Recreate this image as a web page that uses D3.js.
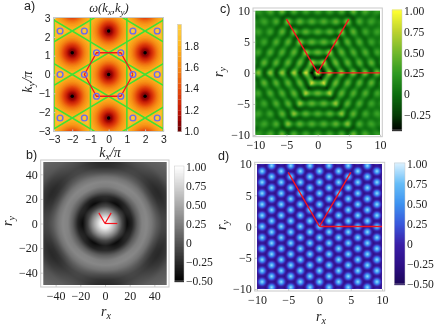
<!DOCTYPE html>
<html><head><meta charset="utf-8">
<script src="https://cdnjs.cloudflare.com/ajax/libs/d3/7.8.5/d3.min.js"></script>
<style>html,body{margin:0;padding:0;background:#fff;overflow:hidden}svg{display:block;filter:blur(.35px)}</style>
</head><body><svg id="c" width="436" height="326"></svg>
<script>
// ---------- values ----------
const kTicks=[-3,-2,-1,0,1,2,3];
const bTicks=[-40,-20,0,20,40];
const cTicks=[-10,-5,0,5,10];
const aBarTicks=[1.0,1.2,1.4,1.6,1.8];
const barTicks=[1,0.75,0.5,0.25,0,-0.25,-0.5];
const cBarTicks=[1,0.75,0.5,0.25,0,-0.25];
const aCentres=[[0,0],[2,1.155],[-2,1.155],[2,-1.155],[-2,-1.155],[0,2.31],[0,-2.31],[2,3.465],[-2,3.465],[2,-3.465],[-2,-3.465],[4,0],[-4,0],[4,2.31],[-4,2.31],[4,-2.31],[-4,-2.31],[0,4.62],[0,-4.62]];
const aKPoints=[[0.667,1.155],[-0.667,1.155],[0.667,-1.155],[-0.667,-1.155],[1.333,0],[-1.333,0],[2.667,0],[-2.667,0],[1.333,2.31],[-1.333,2.31],[2.667,2.31],[-2.667,2.31],[1.333,-2.31],[-1.333,-2.31],[2.667,-2.31],[-2.667,-2.31]];
const aGreenHex=[[0,1.155],[1,0.577],[1,-0.577],[0,-1.155],[-1,-0.577],[-1,0.577],[0,1.155]];
const aZone=[[1.333,0],[0.667,1.155],[-0.667,1.155],[-1.333,0],[-0.667,-1.155],[0.667,-1.155],[1.333,0]];
const aRadius=[0,0.2,0.4,0.6,0.8,1.0,1.155,1.333];
const aOmegaTowardM=[1.0,1.11,1.3,1.5,1.66,1.77,1.84,1.84];
const aOmegaTowardK=[1.0,1.11,1.3,1.5,1.66,1.78,1.86,1.92];
const aColorDomain=[1.0,1.1,1.2,1.4,1.6,1.8,2.0];
const aColors=["#5e0000","#960404","#c41a06","#e64c0c","#f58a14","#fdb61e","#fdd04a"];
const bRadius=[0,4,8,11,14,18,22,26,30,34,38,42,46,50,55,60,72];
const bAlong0=[1,0.9,0.55,0.25,-0.1,-0.44,-0.3,0.05,0.27,0.3,0.2,0.04,-0.08,-0.1,-0.03,0.05,0.14];
const bAlong30=[1,0.9,0.55,0.25,-0.08,-0.32,-0.25,0.05,0.24,0.29,0.17,-0.06,-0.22,-0.26,-0.18,-0.03,0.12];
const cRing=[0,0.8,1.65,2.45,3.3,4.1,4.95,5.8,6.6,7.4,8.25,9.1,9.9,10.7,11.5,12.5,14.2];
const cRingValue=[0.9,-0.4,0.52,-0.2,0.4,-0.14,0.33,-0.1,0.3,-0.08,0.28,-0.07,0.2,0.04,0.18,0.08,0.16];
const cSide=[0,0.5,0.8,1];
const cSideContrast=[0.8,0.85,1.0,1.25];
const cSideRipple=[0.12,0.14,0.2,0.25];
const cColorDomain=[-0.43,-0.25,0,0.25,0.5,0.75,1];
const cColors=["#000000","#063b06","#0d6e0f","#2f9a22","#72b82c","#bcd230","#ffff33"];
const dEvenColumns=[-9.19,-6.13,-3.06,0,3.06,6.13,9.19];
const dOddColumns=[-10.72,-7.66,-4.6,-1.53,1.53,4.6,7.66,10.72];
const dEvenRows=[-10.62,-8.85,-7.08,-5.31,-3.54,-1.77,0,1.77,3.54,5.31,7.08,8.85,10.62];
const dOddRows=[-9.735,-7.965,-6.195,-4.425,-2.655,-0.885,0.885,2.655,4.425,6.195,7.965,9.735];
const dSpotRadius=[0,0.2,0.4,0.6,0.8,1.05];
const dSpotValue=[0.9,0.72,0.42,0.14,-0.08,-0.3];
const dColorDomain=[-0.5,-0.25,0,0.25,0.5,0.75,1];
const dColors=["#1c0758","#2e1088","#3a1fa8","#3a58dc","#3d92f0","#66bdf8","#d8f0ff"];
const redSegments=[[10,0],[5,8.66],[-5,8.66]];

// ---------- helpers ----------
const svg=d3.select("#c");
const SANS="'Liberation Sans',sans-serif", SERIF="'Liberation Serif',serif";
const GRAY="#c9c9c9", RED="#f5141e";
const fmt=d=>String(d).replace("-","\u2212");
const fmt2=d=>(d===0?"0":d.toFixed(2)).replace("-","\u2212");
function raster(box,fn){
  const S=2,W=Math.round(box.w*S),H=Math.round(box.h*S);
  const cv=document.createElement("canvas");cv.width=W;cv.height=H;
  const ctx=cv.getContext("2d"),im=ctx.createImageData(W,H);
  for(let j=0;j<H;j++)for(let i=0;i<W;i++){
    const c=d3.rgb(fn(box.x0+(i+.5)/S,box.y0+(j+.5)/S)),o=4*(j*W+i);
    im.data[o]=c.r;im.data[o+1]=c.g;im.data[o+2]=c.b;im.data[o+3]=255;
  }
  ctx.putImageData(im,0,0);
  svg.append("image").attr("x",box.x0).attr("y",box.y0).attr("width",box.w).attr("height",box.h)
    .attr("preserveAspectRatio","none").attr("href",cv.toDataURL());
}
function frame(f,x,y,xt,yt,font,size,xf,yf,xPad,yPad){
  const g=svg.append("g").attr("font-family",font).attr("font-size",size).attr("fill","#222");
  g.append("rect").attr("x",f.l).attr("y",f.t).attr("width",f.r-f.l).attr("height",f.b-f.t).attr("fill","none").attr("stroke",GRAY);
  const ax=g.append("g").attr("transform",`translate(0,${f.b})`).call(d3.axisBottom(x).tickValues(xt).tickFormat(xf).tickSize(-2).tickPadding(xPad));
  const ay=g.append("g").attr("transform",`translate(${f.l},0)`).call(d3.axisLeft(y).tickValues(yt).tickFormat(yf).tickSize(-2).tickPadding(yPad));
  [ax,ay].forEach(a=>{a.select(".domain").remove();a.selectAll("line").attr("stroke",GRAY);
    a.selectAll("text").attr("font-family",font).attr("font-size",size).attr("fill","#222");});
}
function label(x,y,base,sub,opt={}){
  const t=svg.append("text").attr("x",x).attr("y",y).attr("text-anchor","middle").attr("font-family",SERIF)
    .attr("font-style","italic").attr("font-size",opt.size||14).attr("fill","#222");
  if(opt.rot)t.attr("transform",`rotate(-90 ${x} ${y})`);
  t.append("tspan").text(base);
  t.append("tspan").attr("dy",3).attr("font-size",(opt.size||14)*.72).text(sub);
  if(opt.tail)t.append("tspan").attr("dy",-3).text(opt.tail);
}
function tag(x,y,s){svg.append("text").attr("x",x).attr("y",y).attr("font-family",SANS).attr("font-size",12.5).attr("fill","#222").text(s);}
function colorbar(b,color,dom,ticks,fm,font,size,steps){
  const y=d3.scaleLinear().domain(dom).range([b.b,b.t]);
  const vals=steps||d3.range(b.b-b.t+1).map(i=>y.invert(b.b-i));
  const h=steps?(y(steps[0])-y(steps[1])):1.5;
  svg.append("g").selectAll("rect").data(vals).join("rect")
    .attr("x",b.l).attr("width",b.r-b.l).attr("y",d=>steps?y(d)-h:y(d)-.5).attr("height",h+.15).attr("fill",d=>color(steps?d+(steps[1]-steps[0])/2:d));
  svg.append("rect").attr("x",b.l).attr("y",b.t).attr("width",b.r-b.l).attr("height",b.b-b.t).attr("fill","none").attr("stroke",GRAY).attr("stroke-width",.5);
  svg.append("g").selectAll("text").data(ticks).join("text").attr("x",b.lx).attr("y",d=>b.ty(d)).attr("dy",".34em")
    .attr("font-family",font).attr("font-size",size).attr("fill","#222").text(fm);
}
function redLines(x,y,w){
  svg.append("g").selectAll("line").data(redSegments).join("line")
    .attr("x1",x(0)).attr("y1",y(0)).attr("x2",d=>x(d[0])).attr("y2",d=>y(d[1]))
    .attr("stroke",RED).attr("stroke-width",w);
}

// ---------- a) dispersion ----------
(function(){
  const x=d3.scaleLinear().domain([-3,3]).range([54,163.3]);
  const y=d3.scaleLinear().domain([-3,3]).range([131,18]);
  const color=d3.scaleLinear().domain(aColorDomain).range(aColors).interpolate(d3.interpolateRgb).clamp(true);
  const toM=d3.scaleLinear().domain(aRadius).range(aOmegaTowardM).clamp(true);
  const toK=d3.scaleLinear().domain(aRadius).range(aOmegaTowardK).clamp(true);
  const G=3,W=Math.round((x.range()[1]-x.range()[0])*G),H=Math.round((y.range()[0]-y.range()[1])*G);
  const field=new Float64Array(W*H);
  for(let j=0;j<H;j++)for(let i=0;i<W;i++){
    const kx=x.invert(x.range()[0]+(i+.5)/G),ky=y.invert(y.range()[1]+(j+.5)/G);
    let best=1e9,bc=null;
    aCentres.forEach(c=>{const d=Math.hypot(kx-c[0],ky-c[1]);if(d<best){best=d;bc=c;}});
    const w=(1+Math.cos(6*Math.atan2(ky-bc[1],kx-bc[0])))/2;
    field[j*W+i]=w*toK(best)+(1-w)*toM(best);
  }
  const thresholds=d3.range(1,2.0001,0.05);
  const cs=d3.contours().size([W,H]).thresholds(thresholds)(field);
  const path=d3.geoPath(d3.geoIdentity().scale(1/G));
  const defs=svg.append("defs");
  defs.append("clipPath").attr("id","ca").append("rect").attr("x",x(-3)).attr("y",y(3)).attr("width",x(3)-x(-3)).attr("height",y(-3)-y(3));
  const g=svg.append("g").attr("clip-path","url(#ca)");
  const inner=g.append("g").attr("transform",`translate(${x(-3)},${y(3)})`);
  inner.append("rect").attr("width",W/G).attr("height",H/G).attr("fill",color(1));
  inner.selectAll("path").data(cs).join("path").attr("d",path).attr("fill",d=>color(d.value+.025));
  const line=d3.line().x(d=>x(d[0])).y(d=>y(d[1]));
  g.selectAll(".hex").data(aCentres).join("path").attr("d",c=>line(aGreenHex.map(p=>[c[0]+p[0],c[1]+p[1]])))
    .attr("fill","none").attr("stroke","#3fe034").attr("stroke-width",1.5).attr("stroke-linejoin","round");
  g.append("path").attr("d",line(aZone)).attr("fill","none").attr("stroke",RED).attr("stroke-width",1.3);
  g.selectAll(".kp").data(aKPoints).join("circle").attr("cx",d=>x(d[0])).attr("cy",d=>y(d[1])).attr("r",2.9)
    .attr("fill","none").attr("stroke","#6a6af0").attr("stroke-width",1.4);
  g.selectAll(".dot").data(aCentres).join("circle").attr("cx",d=>x(d[0])).attr("cy",d=>y(d[1])).attr("r",1.7).attr("fill","#000");
  frame({l:53.5,r:163.5,t:17.5,b:131.5},x,y,kTicks,kTicks,SANS,10.4,fmt,fmt,4,3);
  colorbar({l:177.7,r:181.5,t:24.3,b:131.7,lx:184.5,ty:d3.scaleLinear().domain([1,1.8]).range([131.7,46])},color,[1,2],aBarTicks,d=>d.toFixed(1),SANS,10.4,thresholds.slice(0,-1));
  svg.append("text").attr("x",109).attr("y",12).attr("text-anchor","middle").attr("font-family",SERIF).attr("font-style","italic").attr("font-size",12.5).attr("fill","#222")
    .call(t=>{t.append("tspan").text("\u03c9(k");t.append("tspan").attr("dy",2.5).attr("font-size",9).text("x");t.append("tspan").attr("dy",-2.5).text(",k");t.append("tspan").attr("dy",2.5).attr("font-size",9).text("y");t.append("tspan").attr("dy",-2.5).text(")");});
  label(110,157,"k","x",{tail:"/\u03c0"});
  label(32,82,"k","y",{tail:"/\u03c0",rot:true});
  tag(24,10,"a)");
})();

// ---------- b) gray ----------
(function(){
  const x=d3.scaleLinear().domain([-50,50]).range([43.3,166.7]);
  const y=d3.scaleLinear().domain([-50,50]).range([285,162]);
  const color=d3.scaleLinear().domain([-0.5,1]).range(["#000","#fff"]);
  const p0=d3.scaleLinear().domain(bRadius).range(bAlong0).clamp(true);
  const p1=d3.scaleLinear().domain(bRadius).range(bAlong30).clamp(true);
  raster({x0:x(-50),y0:y(50),w:x(50)-x(-50),h:y(-50)-y(50)},(px,py)=>{
    const a=x.invert(px),b=y.invert(py),r=Math.hypot(a,b),w=(1+Math.cos(6*Math.atan2(b,a)))/2;
    return color(w*p0(r)+(1-w)*p1(r));
  });
  redLines(x,y,1.2);
  frame({l:40.7,r:169,t:160,b:287},x,y,bTicks,bTicks,SERIF,12,fmt,fmt,4,3);
  colorbar({l:174.5,r:184,t:166,b:281,lx:186,ty:d3.scaleLinear().domain([1,-0.5]).range([166.7,281])},color,[-0.5,1],barTicks,fmt2,SERIF,11.6);
  label(106,316,"r","x");
  label(12,221,"r","y",{rot:true});
  tag(26,159,"b)");
})();

// ---------- c) green ----------
(function(){
  const x=d3.scaleLinear().domain([-10,10]).range([255.3,380]);
  const y=d3.scaleLinear().domain([-10,10]).range([135,10.7]);
  const color=d3.scaleLinear().domain(cColorDomain).range(cColors).clamp(true);
  const ring=d3.scaleLinear().domain(cRing).range(cRingValue).clamp(true)
    .interpolate((p,q)=>t=>p+(q-p)*d3.easeSinInOut(t));
  const contrast=d3.scaleLinear().domain(cSide).range(cSideContrast).clamp(true);
  const ripple=d3.scaleLinear().domain(cSide).range(cSideRipple).clamp(true);
  const normals=[30,90,150].map(d=>d*Math.PI/180);
  raster({x0:x(-10),y0:y(10),w:x(10)-x(-10),h:y(-10)-y(10)},(px,py)=>{
    const a=x.invert(px),b=y.invert(py);
    let h=-1,s=0;
    normals.forEach(n=>{const p=a*Math.cos(n)+b*Math.sin(n);
      if(Math.abs(p)>h){h=Math.abs(p);s=-a*Math.sin(n)+b*Math.cos(n);}});
    const u=h>0?Math.min(1,Math.abs(s)/(h*Math.tan(Math.PI/6))):0;
    const base=0.13;
    const v=base+(ring(h)-base)*contrast(u)+ripple(u)*Math.cos(2*Math.PI*s/1.9)*Math.cos(Math.PI*h/1.65);
    return color(v);
  });
  redLines(x,y,1.4);
  frame({l:253,r:382.3,t:8,b:136.7},x,y,cTicks,cTicks,SERIF,12,fmt,fmt,4,3);
  colorbar({l:392,r:402,t:10,b:130,lx:404,ty:d3.scaleLinear().domain([1,-0.25]).range([11,115])},color,[-0.43,1],cBarTicks,fmt2,SERIF,11.6);
  label(223,72,"r","y",{rot:true});
  tag(220,13,"c)");
})();

// ---------- d) blue ----------
(function(){
  const x=d3.scaleLinear().domain([-10,10]).range([257,382]);
  const y=d3.scaleLinear().domain([-10,10]).range([289,164]);
  const color=d3.scaleLinear().domain(dColorDomain).range(dColors).clamp(true);
  const spot=d3.scaleLinear().domain(dSpotRadius).range(dSpotValue).clamp(true);
  const spots=d3.cross(dEvenColumns,dEvenRows).concat(d3.cross(dOddColumns,dOddRows));
  raster({x0:x(-10),y0:y(10),w:x(10)-x(-10),h:y(-10)-y(10)},(px,py)=>{
    const a=x.invert(px),b=y.invert(py);
    let r=1e9;
    for(const q of spots){const dx=a-q[0];if(Math.abs(dx)>1.8)continue;const d=Math.hypot(dx,b-q[1]);if(d<r)r=d;}
    return color(spot(r));
  });
  redLines(x,y,1.4);
  frame({l:254.7,r:384.7,t:162.3,b:291},x,y,cTicks,cTicks,SERIF,12,fmt,fmt,4,3);
  colorbar({l:394.3,r:405,t:163,b:284,lx:407,ty:d3.scaleLinear().domain([1,-0.5]).range([163.7,284])},color,[-0.5,1],barTicks,fmt2,SERIF,11.6);
  label(321,321,"r","x");
  label(226,225,"r","y",{rot:true});
  tag(218,160,"d)");
})();
</script></body></html>
